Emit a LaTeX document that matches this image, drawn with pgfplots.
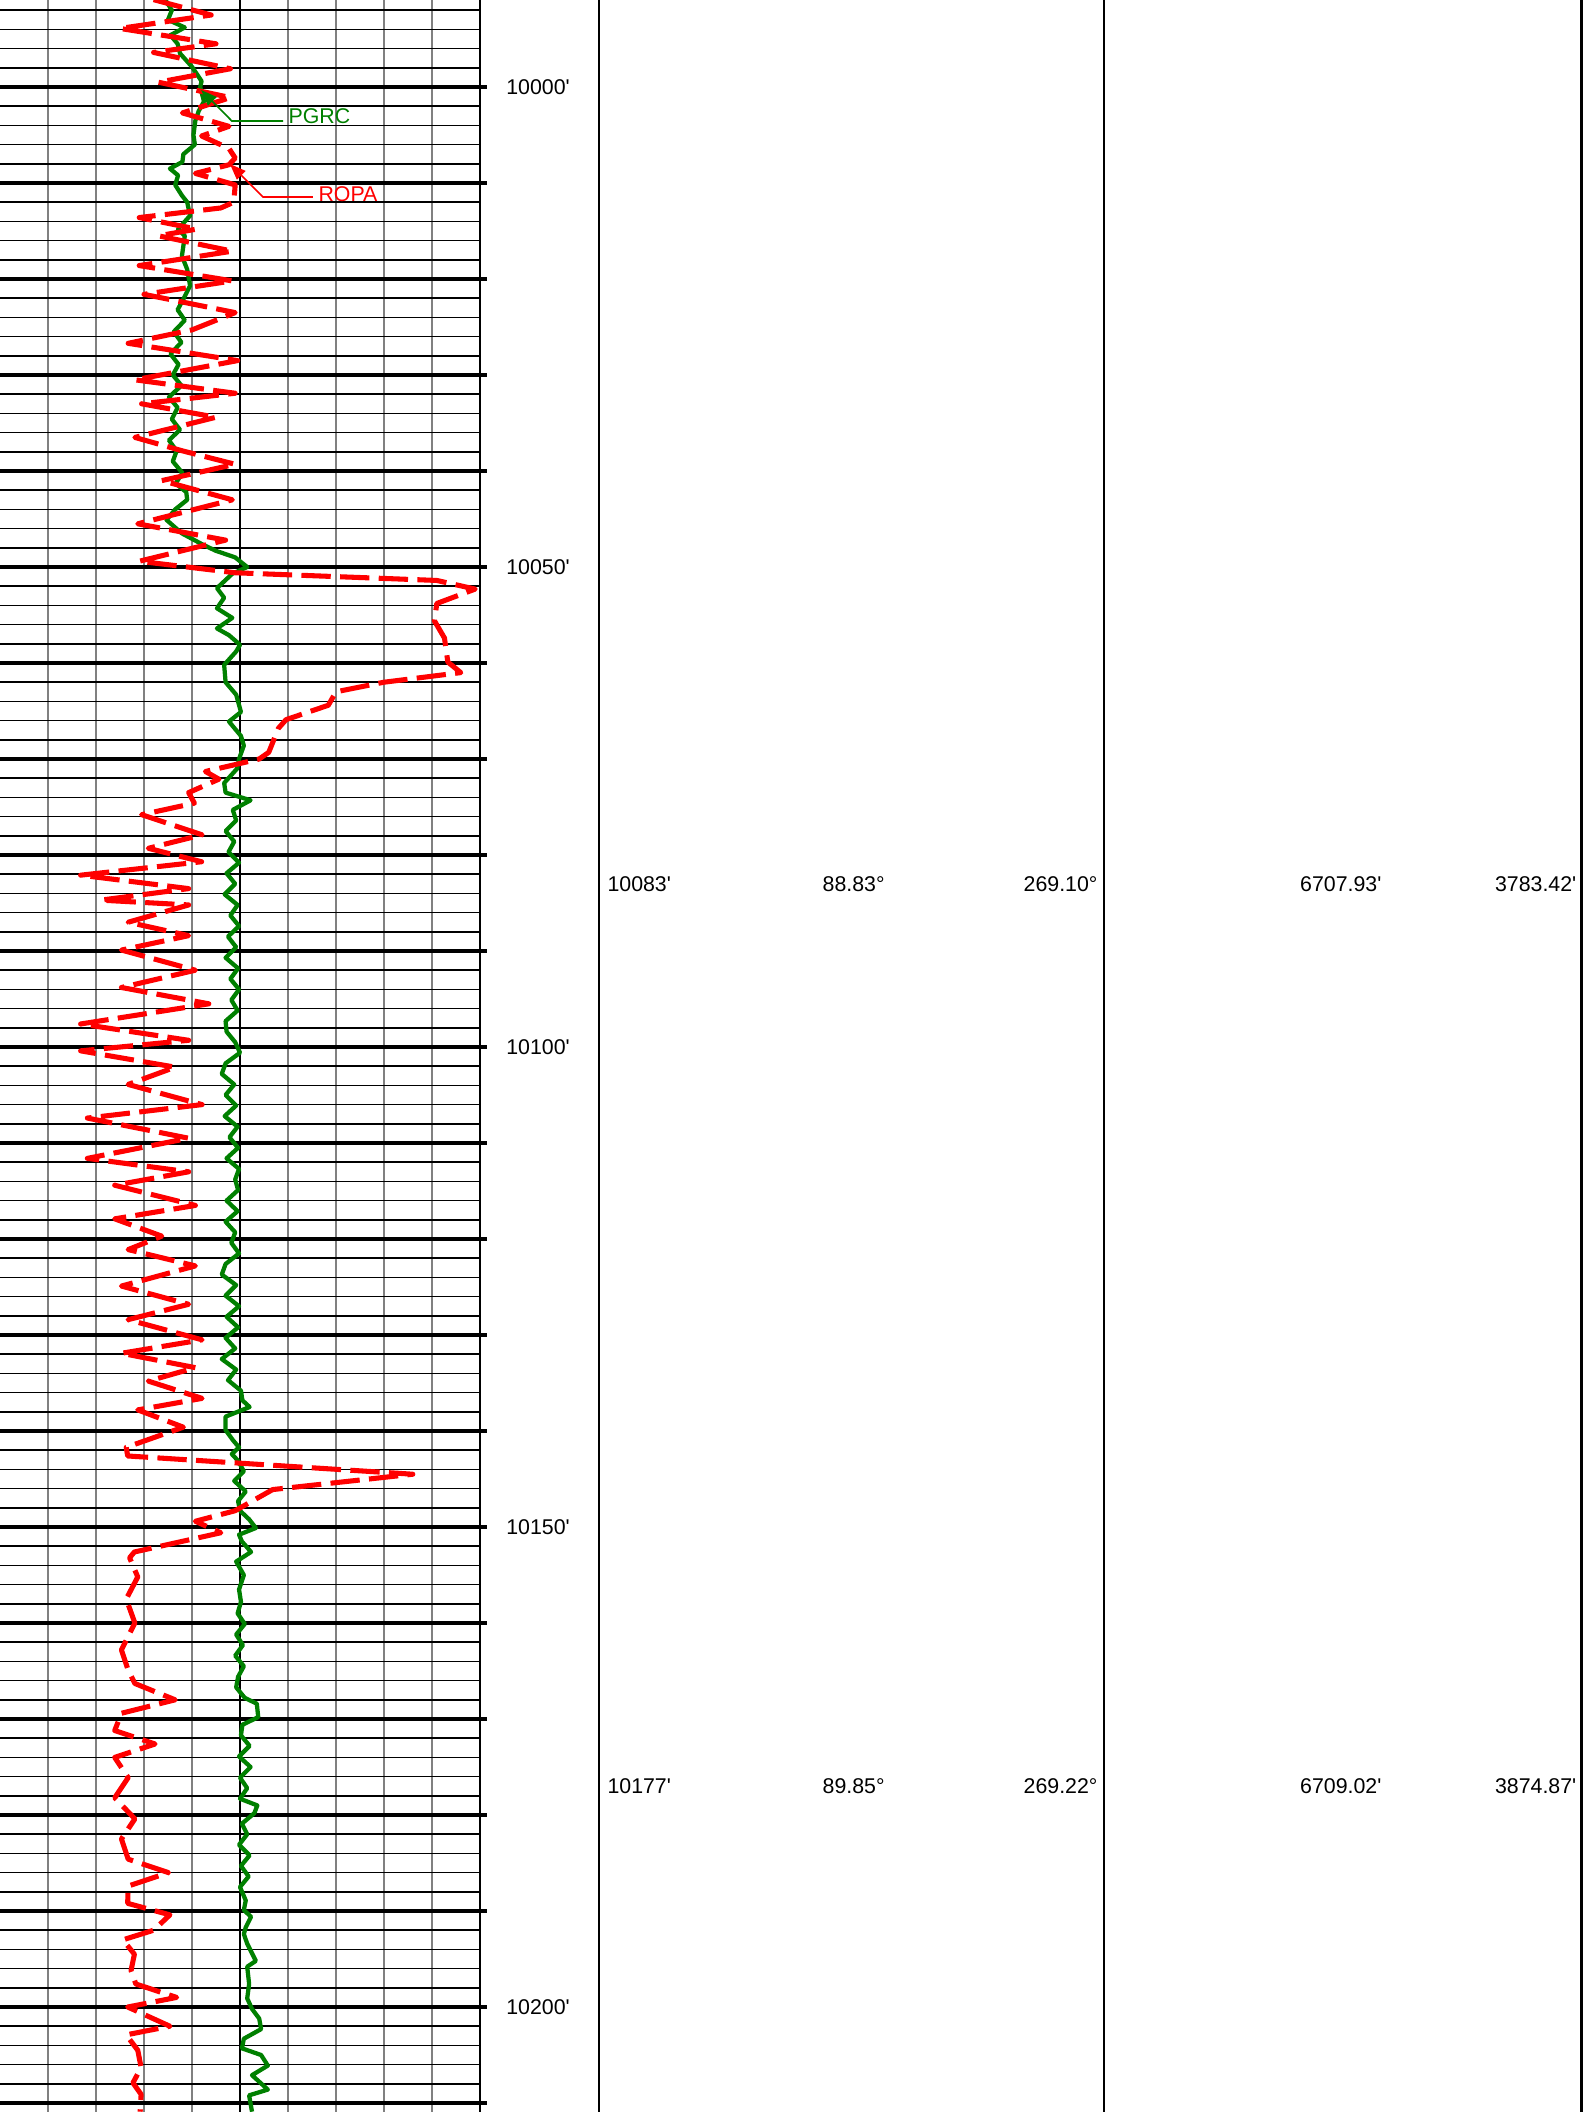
\documentclass[border=0pt]{standalone}
\usepackage{pgfplots}
\pgfplotsset{compat=1.18}
\usepackage{pgfplotstable}
\usepackage{fontspec}
\setmainfont{Liberation Sans}[Ligatures=TeXOff]
\usetikzlibrary{arrows.meta}
\definecolor{grc}{RGB}{0,128,0}
\definecolor{rop}{RGB}{255,0,0}

% depth (ft), value in track divisions (0..10)
\pgfplotstableread{
d v
9990.9 3.44
9992.0 3.58
9993.0 3.50
9993.8 3.85
9994.6 3.55
9995.5 3.70
9996.5 3.75
9997.9 4.00
9999.4 4.20
10000.0 4.17
10001.5 4.25
10002.5 4.14
10003.5 4.07
10005.0 4.03
10006.0 4.06
10007.0 3.82
10007.8 3.80
10008.5 3.54
10009.2 3.71
10010.2 3.65
10011.3 3.79
10012.0 3.90
10013.4 3.96
10014.8 3.71
10015.5 3.85
10017.6 3.79
10019.0 3.90
10020.7 3.96
10022.2 3.81
10023.2 3.70
10024.3 3.85
10025.5 3.62
10026.6 3.78
10027.8 3.55
10028.9 3.72
10030.0 3.60
10031.1 3.78
10032.3 3.52
10033.4 3.70
10034.6 3.58
10035.7 3.75
10036.8 3.52
10037.9 3.68
10039.0 3.60
10040.2 3.80
10041.3 3.66
10042.2 3.88
10043.0 3.90
10044.0 3.65
10045.1 3.47
10046.5 3.79
10047.6 4.20
10048.3 4.49
10049.0 4.90
10050.0 5.15
10050.7 4.84
10052.2 4.52
10053.2 4.67
10054.3 4.52
10055.3 4.84
10056.4 4.52
10057.1 4.77
10058.1 5.00
10058.8 4.92
10060.2 4.67
10062.0 4.70
10063.3 4.92
10065.1 5.02
10066.1 4.77
10067.6 5.02
10068.6 5.08
10070.0 4.98
10071.0 4.94
10072.5 4.67
10073.5 4.70
10074.3 5.22
10075.3 4.85
10076.4 4.92
10077.5 4.70
10078.6 4.88
10079.7 4.76
10080.8 4.98
10081.9 4.72
10083.0 4.90
10084.1 4.68
10085.2 4.95
10086.3 4.80
10087.4 4.98
10088.5 4.75
10089.6 4.92
10090.7 4.70
10091.8 4.96
10092.9 4.80
10094.0 4.98
10095.1 4.82
10096.2 4.95
10097.3 4.70
10098.4 4.72
10099.5 4.90
10100.6 5.00
10101.7 4.70
10102.8 4.62
10103.9 4.88
10105.0 4.70
10106.1 4.92
10107.2 4.68
10108.3 4.95
10109.4 4.78
10110.5 4.96
10111.6 4.72
10112.7 4.98
10113.8 4.90
10114.9 4.96
10116.0 4.72
10117.1 4.95
10118.2 4.70
10119.3 4.90
10120.4 4.82
10121.5 4.98
10122.6 4.70
10123.7 4.62
10124.8 4.92
10125.9 4.70
10127.0 4.98
10128.1 4.72
10129.2 4.96
10130.3 4.70
10131.4 4.90
10132.5 4.62
10133.6 4.92
10134.7 4.75
10135.8 5.02
10136.8 5.05
10137.5 5.20
10138.5 4.70
10139.9 4.70
10141.0 4.86
10141.7 4.98
10142.4 4.83
10143.1 4.96
10144.2 5.08
10145.2 4.88
10146.3 5.12
10147.3 4.96
10148.3 5.00
10149.2 5.19
10150.1 5.33
10150.8 4.98
10151.5 5.04
10152.6 5.23
10153.6 4.92
10155.0 5.08
10156.5 4.98
10157.8 5.02
10159.0 4.95
10160.1 5.10
10161.2 4.92
10162.3 5.06
10163.4 4.90
10164.5 5.08
10165.6 4.96
10166.7 4.92
10167.8 5.10
10168.4 5.35
10169.8 5.38
10170.6 5.05
10171.7 5.02
10172.8 5.20
10173.9 4.98
10175.0 5.22
10176.1 5.00
10177.2 5.15
10178.3 5.00
10179.0 5.36
10179.8 5.30
10180.9 5.04
10182.0 5.15
10183.1 4.98
10184.2 5.20
10185.3 5.02
10186.4 5.18
10187.5 5.00
10188.9 5.12
10189.9 5.08
10190.6 5.23
10191.7 5.12
10192.4 5.08
10193.4 5.15
10195.2 5.33
10195.8 5.15
10197.6 5.19
10199.1 5.15
10200.2 5.25
10201.2 5.40
10202.3 5.44
10203.3 5.08
10204.3 5.04
10205.0 5.44
10206.1 5.58
10207.1 5.25
10208.6 5.58
10209.2 5.19
10210.9 5.25
}\pgrc

\pgfplotstableread{
d v
9990.9 3.20
9992.5 4.40
9993.9 2.50
9995.5 4.50
9996.4 3.20
9998.1 4.80
9999.5 3.30
10001.1 4.80
10002.7 3.80
10004.1 4.77
10005.1 4.20
10006.4 4.77
10007.4 4.90
10008.1 4.77
10009.0 4.07
10010.2 4.90
10012.0 4.87
10012.6 4.60
10013.6 2.90
10014.8 4.10
10015.5 3.30
10017.1 4.84
10018.6 2.90
10020.2 4.84
10021.6 3.00
10023.5 4.90
10025.3 4.00
10026.7 2.67
10028.5 4.95
10030.5 2.81
10031.9 4.90
10033.0 2.95
10034.4 4.50
10036.5 2.81
10037.9 3.80
10039.3 4.90
10041.0 3.37
10043.0 4.84
10045.5 2.87
10047.2 4.70
10049.4 2.90
10050.6 4.90
10051.4 9.10
10052.3 9.90
10053.8 9.10
10055.6 9.05
10057.4 9.26
10059.9 9.33
10061.0 9.60
10062.0 8.00
10063.0 7.00
10064.4 6.84
10065.9 5.96
10066.8 5.80
10069.3 5.60
10070.0 5.40
10071.3 4.28
10072.1 4.56
10073.5 3.93
10074.6 4.05
10075.8 2.95
10077.9 4.21
10079.3 3.09
10080.7 4.20
10082.1 1.68
10083.5 3.93
10084.7 2.10
10085.2 3.93
10087.0 2.67
10088.4 3.93
10089.9 2.53
10092.0 4.07
10093.8 2.53
10095.5 4.35
10097.6 1.68
10099.3 3.93
10100.4 1.68
10102.1 3.65
10103.9 2.67
10106.0 4.21
10107.4 1.82
10109.5 3.93
10111.6 1.82
10113.0 3.93
10114.4 2.39
10116.5 4.07
10117.9 2.39
10119.7 3.37
10121.1 2.67
10122.8 4.07
10124.9 2.53
10126.8 3.93
10128.4 2.67
10130.5 4.21
10131.9 2.53
10133.4 4.07
10134.8 3.09
10136.6 4.21
10137.8 2.87
10139.6 3.82
10141.7 2.63
10142.6 2.66
10144.5 8.60
10146.1 5.68
10148.3 4.90
10149.4 4.07
10150.6 4.60
10152.6 2.80
10153.2 2.70
10155.2 2.87
10157.5 2.63
10160.0 2.81
10162.8 2.53
10164.9 2.67
10166.3 2.81
10168.0 3.65
10169.4 2.53
10171.2 2.39
10172.6 3.23
10174.0 2.39
10176.1 2.67
10178.2 2.39
10180.4 2.81
10182.5 2.53
10184.6 2.67
10186.0 3.51
10187.4 2.67
10189.2 2.66
10190.4 3.54
10192.0 3.20
10193.0 2.56
10194.5 2.80
10196.2 2.73
10197.6 2.83
10199.0 3.68
10200.0 2.66
10202.0 3.54
10202.9 2.63
10204.5 2.87
10206.3 2.94
10207.9 2.77
10209.1 2.94
10210.9 2.92
}\ropa

\begin{document}
\begin{tikzpicture}[font=\fontsize{8bp}{9.6bp}\selectfont]
\begin{axis}[
  at={(0,0)}, anchor=south west,
  scale only axis,
  width=594bp, height=792bp,
  xmin=0, xmax=33,
  ymin=9990.9375, ymax=10210.9375,
  y dir=reverse,
  hide axis,
  clip=true,
]
% grid of the left track
\pgfplotsinvokeforeach{1,2,3,4,6,7,8,9}{
  \draw[black!50, line width=0.45bp] (axis cs:#1,9985) -- (axis cs:#1,10215);
}
\pgfplotsinvokeforeach{9992,9994,...,10210}{
  \draw[black, line width=0.6bp] (axis cs:0,#1) -- (axis cs:10,#1);
}
\pgfplotsinvokeforeach{10000,10010,...,10210}{
  \draw[black, line width=1.5bp] (axis cs:0,#1) -- (axis cs:10.15,#1);
}
\draw[black, line width=1.1bp] (axis cs:5,9985) -- (axis cs:5,10215);
\draw[black, line width=0.9bp] (axis cs:10,9985) -- (axis cs:10,10215);
% track borders
\draw[black, line width=1bp] (axis cs:12.48,9985) -- (axis cs:12.48,10215);
\draw[black, line width=1bp] (axis cs:23,9985) -- (axis cs:23,10215);
\draw[black, line width=1bp] (axis cs:32.95,9985) -- (axis cs:32.95,10215);

% curves
\addplot[grc, line width=1.6bp, line join=round] table[x=v, y=d] {\pgrc};
\addplot[rop, line width=1.9bp, line join=round, dash pattern=on 11bp off 3.5bp] table[x=v, y=d] {\ropa};

% curve labels
\draw[grc, line width=0.6bp, -{Triangle[length=6bp, width=4.5bp]}]
  (axis cs:5.9,10003.54) -- (axis cs:4.83,10003.54) -- (axis cs:4.19,10000.31);
\node[grc, anchor=base west, inner sep=0] at (axis cs:6.0,10003.85) {PGRC};
\draw[rop, line width=0.6bp, -{Triangle[length=6bp, width=4.5bp]}]
  (axis cs:6.52,10011.46) -- (axis cs:5.48,10011.46) -- (axis cs:4.79,10008.02);
\node[rop, anchor=base west, inner sep=0] at (axis cs:6.625,10011.875) {ROPA};

% depth labels
\pgfplotsinvokeforeach{10000,10050,10100,10150,10200}{
  \node[inner sep=0] at (axis cs:11.21,#1) {#1'};
}
% survey stations
\node[anchor=west, inner sep=0] at (axis cs:12.646,10083) {10083'};
\node[anchor=east, inner sep=0] at (axis cs:18.44,10083) {88.83°};
\node[anchor=east, inner sep=0] at (axis cs:22.875,10083) {269.10°};
\node[anchor=east, inner sep=0] at (axis cs:28.79,10083) {6707.93'};
\node[anchor=east, inner sep=0] at (axis cs:32.85,10083) {3783.42'};
\node[anchor=west, inner sep=0] at (axis cs:12.646,10177) {10177'};
\node[anchor=east, inner sep=0] at (axis cs:18.44,10177) {89.85°};
\node[anchor=east, inner sep=0] at (axis cs:22.875,10177) {269.22°};
\node[anchor=east, inner sep=0] at (axis cs:28.79,10177) {6709.02'};
\node[anchor=east, inner sep=0] at (axis cs:32.85,10177) {3874.87'};

\coordinate (bl) at (axis cs:0,10210.9375);
\coordinate (tr) at (axis cs:33,9990.9375);
\end{axis}
\pgfresetboundingbox
\path (bl) rectangle (tr);
\end{tikzpicture}
\end{document}
